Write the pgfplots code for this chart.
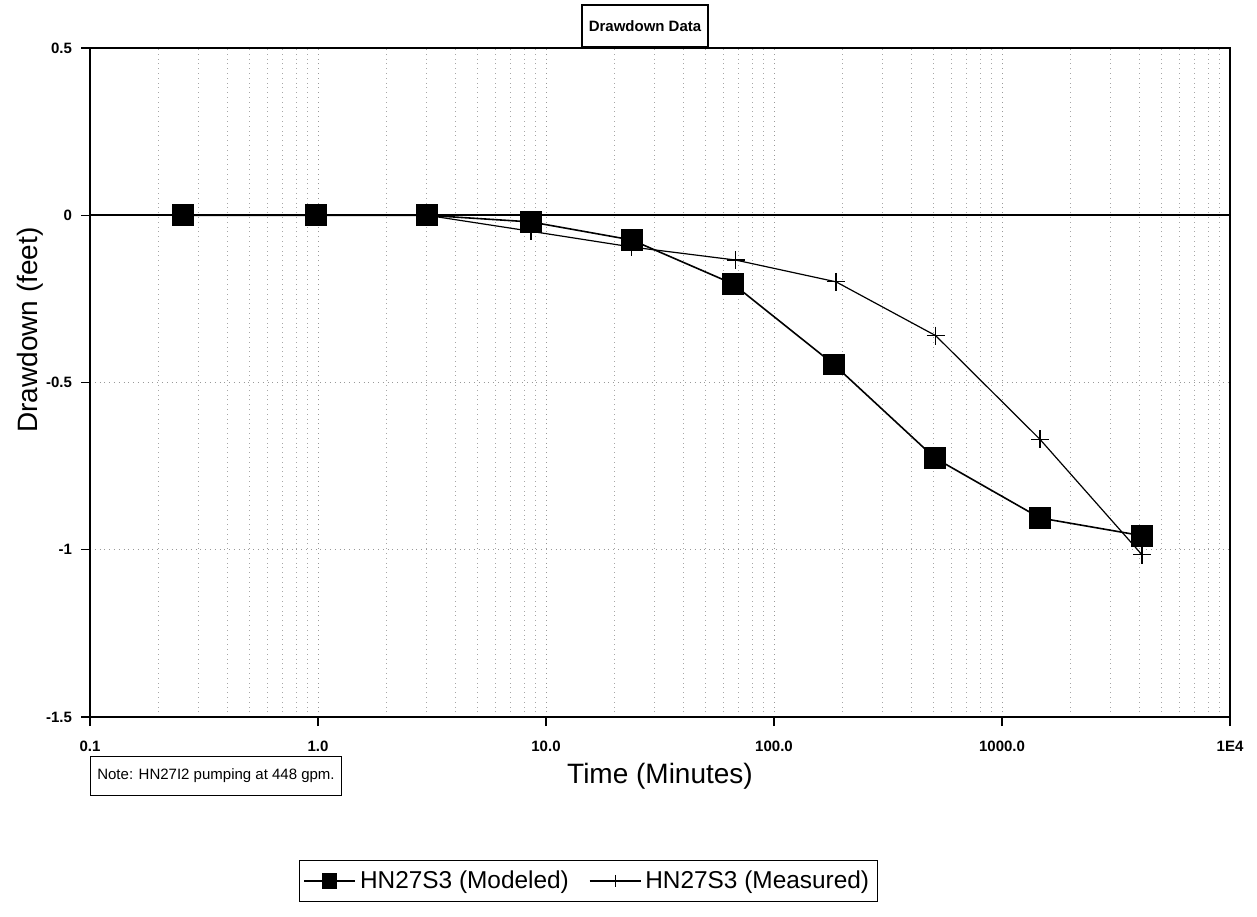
\documentclass[border=0pt]{standalone}
\usepackage{fontspec}
\setmainfont{Liberation Sans}
\usepackage{pgfplots}
\pgfplotsset{compat=1.18}
\begin{document}
\begin{tikzpicture}
\path[use as bounding box] (0,0) rectangle (628.5pt,458pt);
\begin{axis}[at={(45pt,99.5pt)}, anchor=south west, scale only axis,
  width=570pt, height=334.5pt,
  xmode=log, xmin=0.1, xmax=10000, ymin=-1.5, ymax=0.5,
  xtick={0.1,1,10,100,1000,10000},
  xticklabels={0.1,1.0,10.0,100.0,1000.0,1E4},
  ytick={-1.5,-1,-0.5,0,0.5},
  yticklabels={-1.5,-1,-0.5,0,0.5},
  xtick pos=bottom, ytick pos=left,
  /pgf/number format/assume math mode=true,
  tick align=outside, major tick length=4.5pt, minor tick length=0pt,
  tick style={black, line width=0.6pt},
  ticklabel style={font=\fontsize{7.5}{9}\selectfont\bfseries},
  xticklabel style={yshift=-4pt},
  yticklabel style={xshift=-1pt},
  axis line style={black, line width=0.8pt},
  xmajorgrids, xminorgrids, ymajorgrids,
  major grid style={dotted, gray!80, line width=0.5pt},
  minor grid style={dotted, gray!70, line width=0.4pt},
  extra y ticks={0}, extra y tick labels={},
  extra y tick style={grid=major, major grid style={solid, black, line width=0.9pt}},
  legend style={at={(0.437,-0.245)}, anchor=center, legend columns=2,
    draw=black, line width=0.5pt, font=\fontsize{12.2}{15}\selectfont,
    inner xsep=2pt, inner ysep=3pt,
    /tikz/every even column/.append style={column sep=8pt}},
  legend image code/.code={\draw[mark repeat=2,mark phase=2]
    plot coordinates {(0cm,0cm) (0.45cm,0cm) (0.9cm,0cm)};},
  legend cell align=left,
]
\addplot[black, line width=0.8pt, mark=square*, mark size=5pt,
  legend image post style={mark size=3.4pt}]
  coordinates {(0.256,0) (0.98,0) (3.0,0) (8.6,-0.02) (23.8,-0.074)
    (66,-0.205) (183,-0.446) (508,-0.726) (1468,-0.905) (4112,-0.958)};
\addlegendentry{HN27S3 (Modeled)}
\addplot[black, line width=0.6pt, mark=+, mark size=4.5pt,
  legend image post style={mark size=3pt}]
  coordinates {(3.0,0) (8.6,-0.048) (23.8,-0.095) (68,-0.134)
    (187,-0.199) (512,-0.360) (1468,-0.670) (4112,-1.015)};
\addlegendentry{HN27S3 (Measured)}
\end{axis}
\begin{scope}[x=0.5pt, y=-0.5pt, shift={(0pt,458pt)}]
  \node[draw=black, fill=white, line width=0.6pt, minimum width=60pt, minimum height=21pt,
    font=\fontsize{7.5}{9}\selectfont\bfseries] at (645,26) {Drawdown Data};
  \node[draw=black, fill=white, line width=0.5pt, minimum width=124pt, minimum height=19.5pt,
    font=\fontsize{7.5}{9}\selectfont] at (216,776) {Note: HN27I2 pumping at 448 gpm.};
  \node[font=\fontsize{14}{16}\selectfont] at (660,776) {Time (Minutes)};
  \node[rotate=90, font=\fontsize{14}{16}\selectfont] at (30,330) {Drawdown (feet)};
\end{scope}
\end{tikzpicture}
\end{document}
